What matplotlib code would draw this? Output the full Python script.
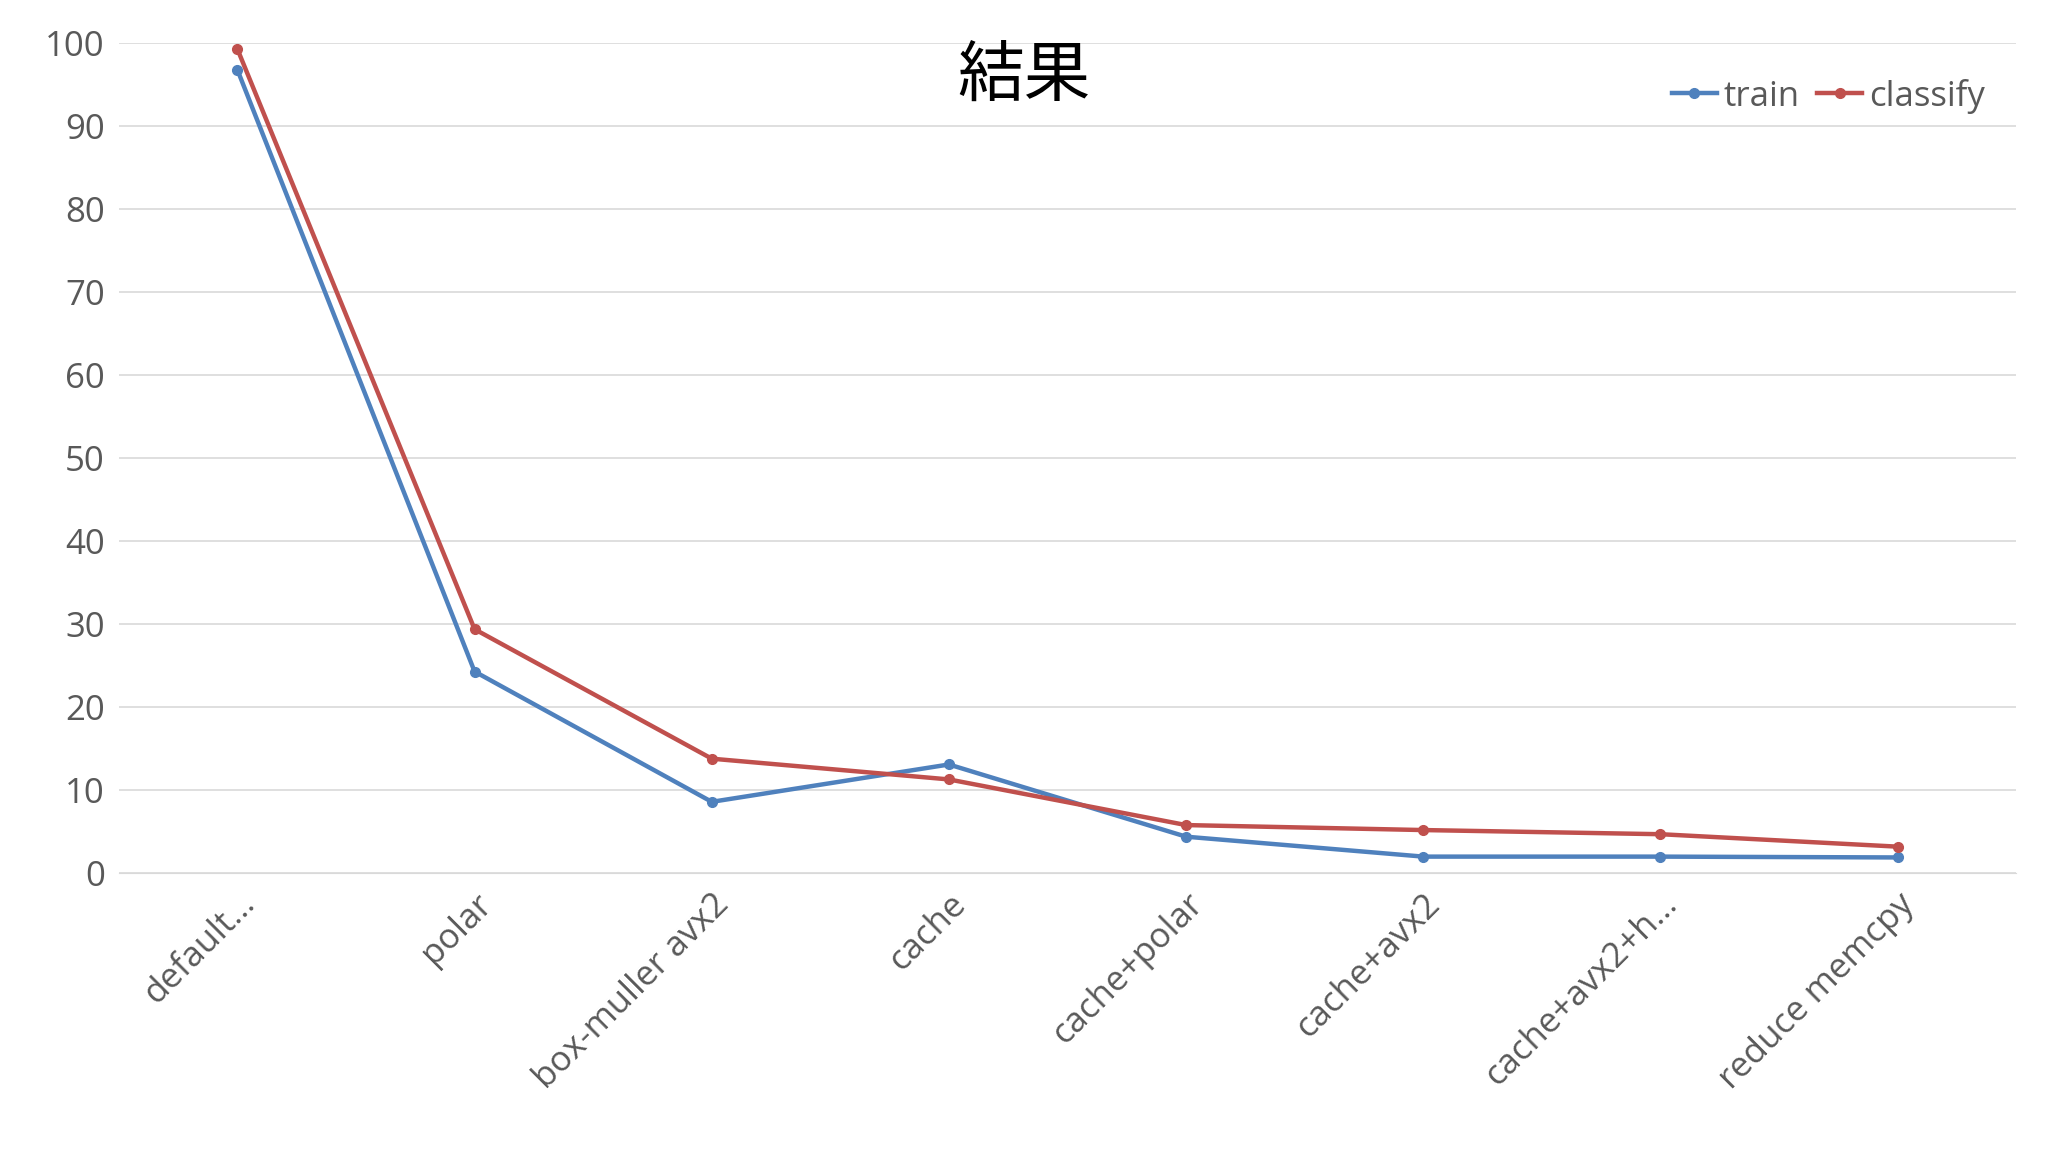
import matplotlib
matplotlib.use("Agg")
import matplotlib.pyplot as plt

categories = ["default…", "polar", "box-muller avx2", "cache", "cache+polar", "cache+avx2", "cache+avx2+h…", "reduce memcpy"]
train = [96.8, 24.3, 8.6, 13.1, 4.4, 2.0, 2.0, 1.9]
classify = [99.3, 29.4, 13.8, 11.3, 5.8, 5.2, 4.7, 3.2]

plt.rcParams['font.family'] = ['Open Sans', 'Noto Sans CJK JP', 'DejaVu Sans']
fig = plt.figure(figsize=(20.48, 11.52), dpi=100)
ax = fig.add_axes([0.058, 0.242, 0.9265, 0.7205])
x = range(len(categories))
ax.plot(x, train, color='#4F81BD', lw=3.2, marker='o', ms=7, label='train')
ax.plot(x, classify, color='#C0504D', lw=3.2, marker='o', ms=7, label='classify')
ax.set_xlim(-0.5, 7.5)
ax.set_ylim(0, 100)
ax.set_yticks(range(0, 101, 10))
ax.grid(axis='y', color='#D9D9D9', lw=1.2)
ax.set_axisbelow(True)
for s in ['top', 'right', 'left']:
    ax.spines[s].set_visible(False)
ax.spines['bottom'].set_color('#D9D9D9')
ax.tick_params(length=0, labelsize=25, colors='#595959', pad=10)
ax.set_xticks(list(x))
ax.set_xticklabels(categories, rotation=45, ha='right', rotation_mode='anchor')
fig.text(0.5, 0.933, "結果", ha='center', va='center', fontsize=48, family=['Noto Sans CJK JP'])
ax.legend(loc='upper right', bbox_to_anchor=(1.0, 0.995), frameon=False, fontsize=25,
          ncol=2, handlelength=1.3, handletextpad=0.2, columnspacing=0.5, labelcolor='#595959')
fig.savefig("out.png")
